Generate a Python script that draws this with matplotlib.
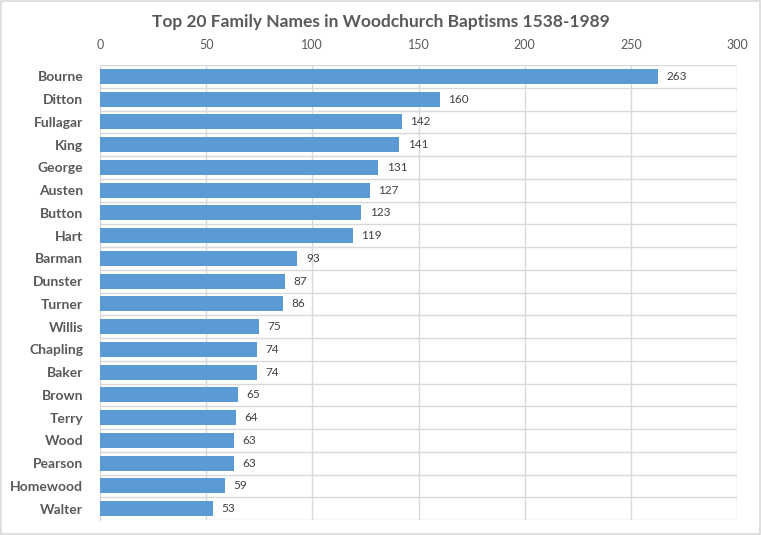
import matplotlib
matplotlib.use("Agg")
import matplotlib.pyplot as plt
import numpy as np

names = ["Bourne", "Ditton", "Fullagar", "King", "George", "Austen", "Button", "Hart",
         "Barman", "Dunster", "Turner", "Willis", "Chapling", "Baker", "Brown", "Terry",
         "Wood", "Pearson", "Homewood", "Walter"]
counts = [263, 160, 142, 141, 131, 127, 123, 119, 93, 87, 86, 75, 74, 74, 65, 64, 63, 63, 59, 53]
xticks = [0, 50, 100, 150, 200, 250, 300]

plt.rcParams['font.family'] = ['Lato', 'DejaVu Sans']
txt = '#595959'
grid = '#D9D9D9'

fig = plt.figure(figsize=(7.61, 5.35), dpi=100)
ax = fig.add_axes([0.1314, 0.028, 0.8371, 0.8505])
y = np.arange(len(names))
ax.barh(y, counts, height=0.66, color='#5B9BD5', zorder=3)
ax.set_ylim(len(names) - 0.5, -0.5)
ax.set_xlim(0, 300)
ax.set_xticks(xticks)
ax.xaxis.tick_top()
ax.set_yticks(y)
ax.set_yticklabels(names, fontsize=10, fontweight='bold', color=txt)
ax.set_yticks(np.arange(-0.5, len(names), 1), minor=True)
ax.tick_params(axis='x', length=0, labelsize=9, labelcolor=txt, pad=10)
ax.tick_params(axis='y', which='both', length=0, pad=12)
ax.grid(axis='x', color=grid, linewidth=1, zorder=0)
ax.grid(axis='y', which='minor', color=grid, linewidth=1, zorder=0)
ax.grid(axis='y', which='major', visible=False)
for s in ['top', 'right', 'bottom']:
    ax.spines[s].set_visible(False)
ax.spines['left'].set_color(grid)
for yi, v in zip(y, counts):
    ax.text(v + 4, yi, str(v), va='center', ha='left', fontsize=8.5, color='#404040')
fig.text(0.5, 0.958, "Top 20 Family Names in Woodchurch Baptisms 1538-1989", ha='center', va='center',
         fontsize=12.5, fontweight='bold', color=txt)
fig.patches.append(plt.Rectangle((0.001, 0.001), 0.998, 0.997, transform=fig.transFigure,
                                 fill=False, edgecolor='#D9D9D9', linewidth=1.2))
fig.savefig("out.png", dpi=100)
